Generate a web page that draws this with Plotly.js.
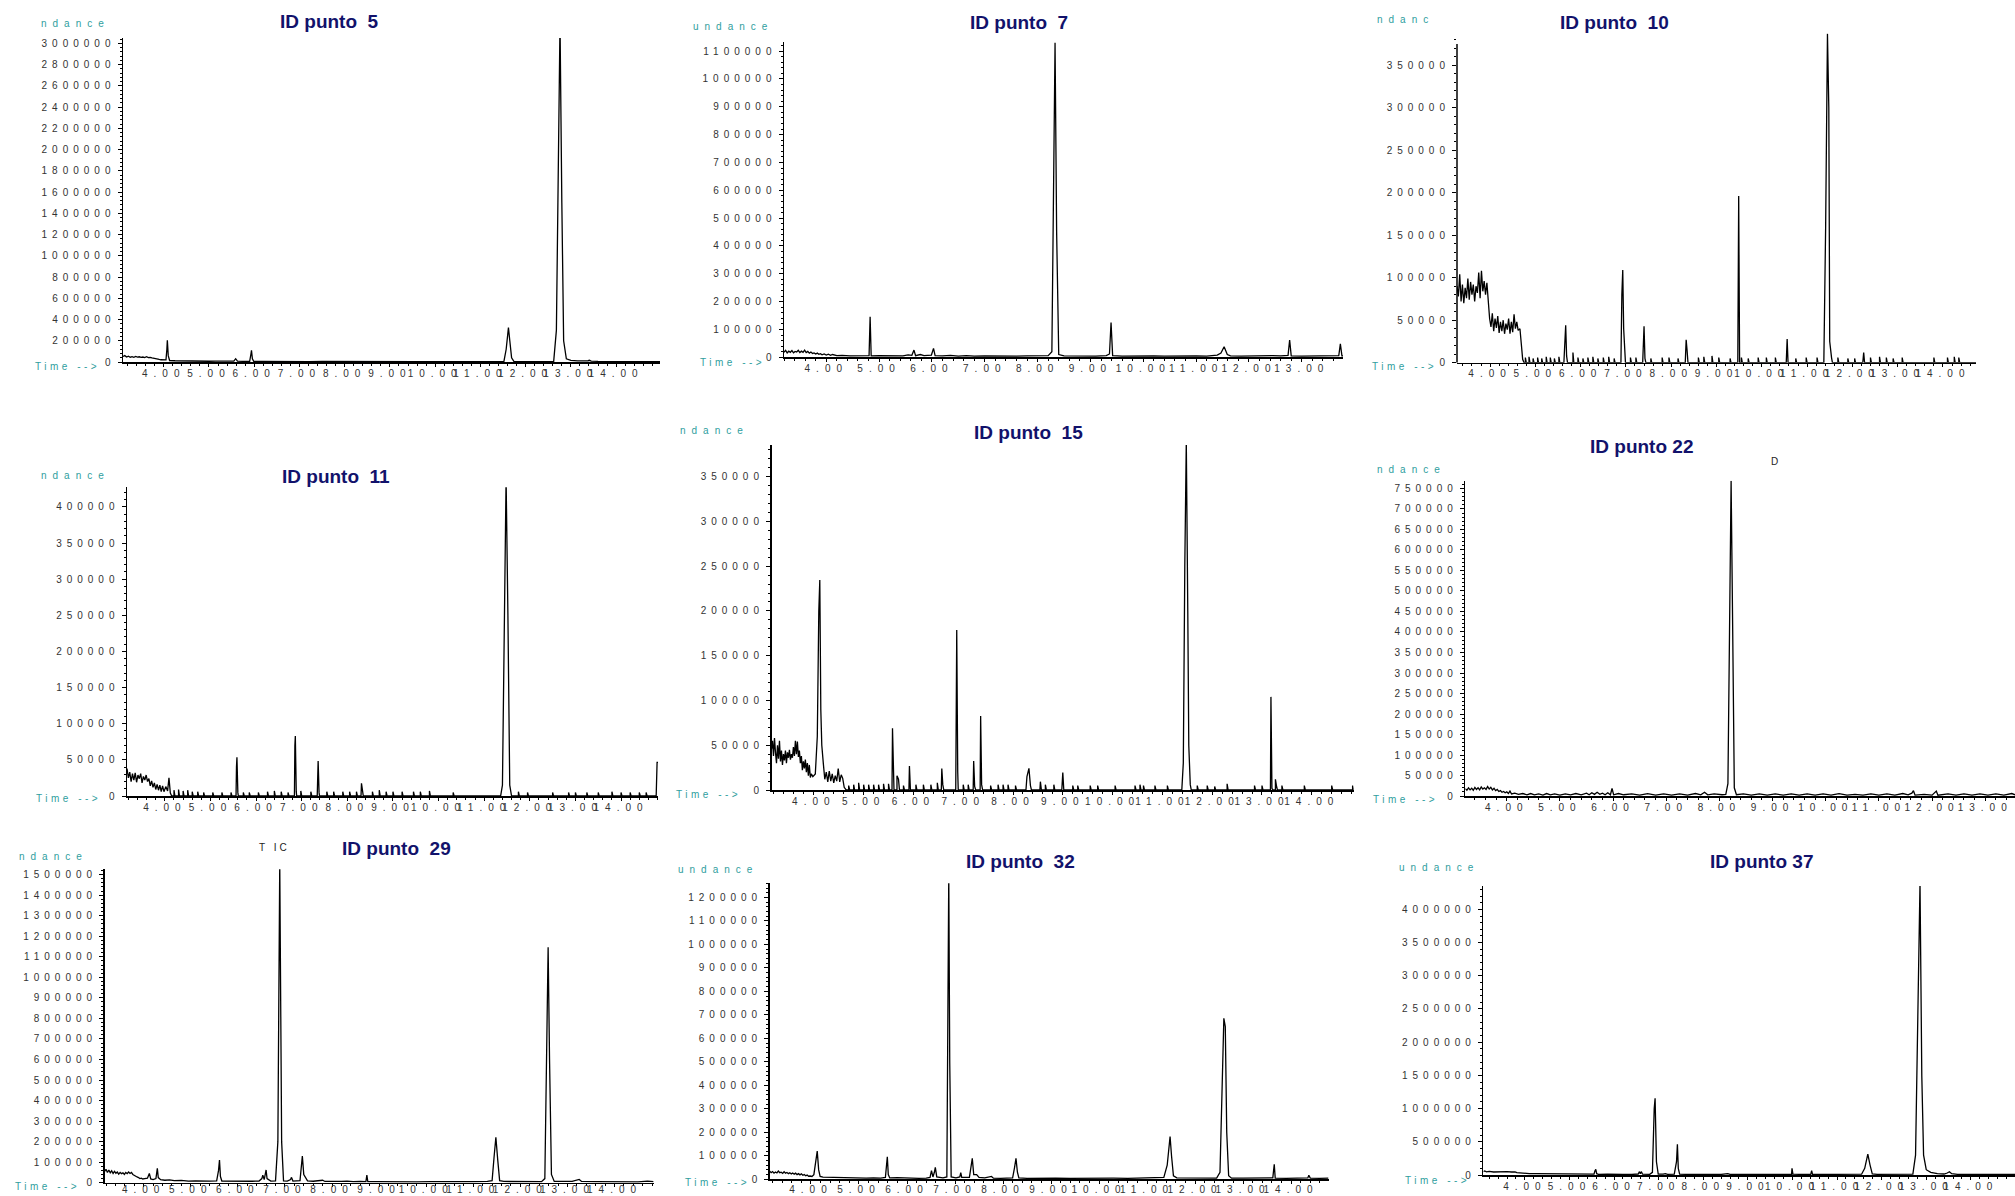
<!DOCTYPE html>
<html><head><meta charset="utf-8">
<script src="https://cdn.plot.ly/plotly-3.0.1.min.js"></script>
<style>
html,body{margin:0;padding:0;background:#fff;}
#chart{width:2015px;height:1196px;}
.yaxislayer-above text{letter-spacing:5px;}
.xaxislayer-above text{letter-spacing:6px;}
.annotation-text[data-unformatted*="nda"]{letter-spacing:6px;}
.annotation-text[data-unformatted^="Time"]{letter-spacing:3.5px;}
.annotation-text[data-unformatted^="T IC"]{letter-spacing:3px;}
</style></head><body><div id="chart"></div>
<script>
// ---------- DATA (time in min, abundance) ----------
const punto5 = [[3.10,52000],[3.14,60000],[3.18,47000],[3.22,54000],[3.26,45000],[3.30,50000],[3.34,44000],[3.38,52000],[3.42,46000],[3.46,49000],[3.50,43000],[3.54,47000],[3.58,42000],[3.62,50000],[3.66,41000],[3.70,44000],[3.74,38000],[3.78,33000],[3.82,30000],[3.86,26000],[3.90,24000],[3.94,21000],[3.98,19000],[4.02,17000],[4.05,20000],[4.07,120000],[4.08,205000],[4.10,60000],[4.13,14000],[4.25,12000],[4.40,10000],[4.55,11000],[4.70,8000],[4.85,9000],[5.00,7000],[5.15,8000],[5.30,6000],[5.45,7000],[5.55,9000],[5.59,31000],[5.63,8000],[5.75,6000],[5.90,7000],[5.93,80000],[5.94,110000],[5.96,30000],[5.99,6000],[6.2,5000],[6.4,6000],[6.6,4000],[6.9,5000],[7.2,4000],[7.5,4500],[7.8,3500],[8.1,4000],[8.4,3500],[8.7,4000],[9.0,3500],[9.3,4000],[9.6,3000],[9.9,3500],[10.2,3000],[10.5,3500],[10.8,3000],[11.1,4000],[11.4,3500],[11.52,6000],[11.57,120000],[11.60,290000],[11.62,323000],[11.65,200000],[11.69,40000],[11.74,6000],[11.9,4000],[12.2,3500],[12.5,4000],[12.62,6000],[12.68,300000],[12.72,1800000],[12.76,3200000],[12.80,1500000],[12.84,200000],[12.90,30000],[13.0,15000],[13.15,10000],[13.30,9000],[13.38,12000],[13.41,16000],[13.45,9000],[13.6,6000],[13.9,5000],[14.2,4000],[14.5,4500],[14.97,3500]];

const punto7 = [[3.20,18000],[3.23,25000],[3.26,16000],[3.29,22000],[3.32,18000],[3.35,24000],[3.38,16000],[3.41,21000],[3.44,19000],[3.47,25000],[3.50,17000],[3.53,22000],[3.56,18000],[3.59,26000],[3.62,17000],[3.65,21000],[3.68,15000],[3.71,19000],[3.74,14000],[3.77,16000],[3.80,12000],[3.83,15000],[3.86,11000],[3.89,13000],[3.92,9000],[3.96,12000],[4.00,8000],[4.04,11000],[4.08,7000],[4.12,10000],[4.20,6000],[4.30,7000],[4.45,5000],[4.60,6000],[4.75,5000],[4.81,6000],[4.83,146000],[4.85,5000],[5.00,6000],[5.15,5000],[5.30,6000],[5.45,5000],[5.55,9000],[5.62,7000],[5.66,26000],[5.69,6000],[5.78,10000],[5.85,6000],[5.99,8000],[6.03,32000],[6.06,6000],[6.20,5000],[6.35,7000],[6.50,4000],[6.65,6000],[6.80,4000],[7.00,5000],[7.20,4000],[7.40,5000],[7.60,4000],[7.80,5000],[8.00,6000],[8.10,8000],[8.20,6000],[8.27,20000],[8.30,500000],[8.33,1130000],[8.36,450000],[8.40,10000],[8.50,5000],[8.70,4000],[8.90,5000],[9.10,4000],[9.30,6000],[9.36,12000],[9.39,125000],[9.42,6000],[9.60,4000],[9.80,5000],[10.00,4000],[10.20,5000],[10.40,4000],[10.60,5000],[10.80,4000],[11.00,5000],[11.20,4000],[11.40,8000],[11.47,15000],[11.53,38000],[11.59,10000],[11.65,5000],[11.85,4000],[12.05,5000],[12.25,4000],[12.45,6000],[12.60,5000],[12.74,7000],[12.77,62000],[12.80,5000],[13.00,4000],[13.20,5000],[13.40,4000],[13.60,5000],[13.70,6000],[13.73,48000],[13.76,5000],[13.78,5000]];

const punto10 = [[3.27,90000],[3.30,78000],[3.33,104000],[3.36,72000],[3.39,92000],[3.42,70000],[3.45,88000],[3.48,76000],[3.51,99000],[3.54,74000],[3.57,95000],[3.60,80000],[3.63,92000],[3.66,72000],[3.69,90000],[3.72,82000],[3.75,106000],[3.78,76000],[3.81,108000],[3.84,84000],[3.87,96000],[3.90,80000],[3.93,94000],[3.96,66000],[3.99,52000],[4.02,42000],[4.05,58000],[4.08,37000],[4.11,52000],[4.14,41000],[4.17,55000],[4.20,35000],[4.23,48000],[4.26,37000],[4.29,50000],[4.32,34000],[4.35,46000],[4.38,39000],[4.41,52000],[4.44,34000],[4.47,48000],[4.50,36000],[4.53,57000],[4.56,40000],[4.59,48000],[4.62,38000],[4.66,40000],[4.69,22000],[4.72,4000],[4.75,0],
[4.78,0],[4.78,6000],[4.80,0],[4.86,0],[4.86,7000],[4.88,0],[4.95,0],[4.95,5000],[4.97,0],[5.05,0],[5.05,6000],[5.07,0],[5.14,0],[5.14,5000],[5.16,0],[5.24,0],[5.24,7000],[5.26,0],[5.33,0],[5.33,6000],[5.35,0],[5.42,0],[5.42,5000],[5.44,0],[5.52,0],[5.52,7000],[5.54,0],
[5.63,0],[5.65,30000],[5.67,44000],[5.69,8000],[5.71,0],[5.83,0],[5.83,12000],[5.85,0],[5.94,0],[5.94,6000],[5.96,0],[6.05,0],[6.05,5000],[6.07,0],[6.16,0],[6.16,6000],[6.18,0],[6.27,0],[6.27,7000],[6.29,0],[6.38,0],[6.38,5000],[6.40,0],[6.50,0],[6.50,6000],[6.52,0],[6.62,0],[6.62,7000],[6.64,0],[6.74,0],[6.74,5000],[6.76,0],
[6.89,0],[6.91,80000],[6.93,109000],[6.95,40000],[6.97,10000],[6.99,0],[7.10,0],[7.10,6000],[7.12,0],[7.22,0],[7.22,6000],[7.24,0],
[7.37,0],[7.38,30000],[7.40,43000],[7.42,5000],[7.44,0],[7.55,0],[7.55,5000],[7.57,0],[7.80,0],[7.80,6000],[7.82,0],[7.95,0],[7.95,6000],[7.97,0],[8.15,0],[8.15,5000],[8.17,0],
[8.31,0],[8.33,27000],[8.35,15000],[8.37,0],[8.60,0],[8.60,6000],[8.62,0],[8.72,0],[8.72,7000],[8.74,0],[8.90,0],[8.90,8000],[8.92,0],[9.05,0],[9.05,6000],[9.07,0],[9.30,0],[9.30,5000],[9.32,0],
[9.47,0],[9.49,196000],[9.51,0],[9.55,0],[9.55,6000],[9.57,0],[9.70,0],[9.70,5000],[9.72,0],[9.92,0],[9.92,6000],[9.94,0],[10.10,0],[10.10,6000],[10.12,0],[10.30,0],[10.30,6000],[10.32,0],
[10.54,0],[10.56,28000],[10.58,0],[10.75,0],[10.75,5000],[10.77,0],[10.98,0],[10.98,6000],[11.00,0],[11.22,0],[11.22,6000],[11.24,0],
[11.37,0],[11.41,160000],[11.45,387000],[11.48,300000],[11.50,25000],[11.54,6000],[11.56,0],[11.68,0],[11.68,6000],[11.70,0],[11.90,0],[11.90,5000],[11.92,0],[12.05,0],[12.05,5000],[12.07,0],
[12.23,0],[12.25,12000],[12.27,0],[12.40,0],[12.40,6000],[12.42,0],[12.60,0],[12.60,7000],[12.62,0],[12.75,0],[12.75,6000],[12.77,0],[12.90,0],[12.90,5000],[12.92,0],[13.10,0],[13.10,6000],[13.12,0],[13.80,0],[13.80,6000],[13.82,0],[14.10,0],[14.10,6000],[14.12,0],[14.25,0],[14.25,7000],[14.27,0],[14.35,0],[14.35,6000],[14.37,0],[14.73,0]];

const punto11 = [[3.17,38000],[3.20,25000],[3.23,33000],[3.26,20000],[3.29,31000],[3.32,22000],[3.35,32000],[3.38,19000],[3.41,29000],[3.44,24000],[3.47,31000],[3.50,18000],[3.53,27000],[3.56,22000],[3.59,29000],[3.62,20000],[3.65,24000],[3.68,14000],[3.71,21000],[3.74,12000],[3.77,18000],[3.80,9000],[3.83,16000],[3.86,8000],[3.89,15000],[3.92,6000],[3.95,14000],[3.98,6000],[4.02,13000],[4.06,7000],[4.09,25000],[4.12,4000],[4.15,0],
[4.20,0],[4.20,8000],[4.22,0],[4.30,0],[4.30,9000],[4.32,0],[4.40,0],[4.40,7000],[4.42,0],[4.50,0],[4.50,8000],[4.52,0],[4.60,0],[4.60,6000],[4.62,0],[4.72,0],[4.72,6000],[4.74,0],[4.85,0],[4.85,5000],[4.87,0],[5.05,0],[5.05,5000],[5.07,0],[5.25,0],[5.25,5000],[5.27,0],[5.45,0],[5.45,5000],[5.47,0],
[5.56,0],[5.57,40000],[5.58,53500],[5.60,5000],[5.61,0],[5.72,0],[5.72,5000],[5.74,0],[5.85,0],[5.85,5000],[5.87,0],[6.05,0],[6.05,5000],[6.07,0],[6.25,0],[6.25,6000],[6.27,0],[6.40,0],[6.40,7000],[6.42,0],[6.55,0],[6.55,6000],[6.57,0],[6.70,0],[6.70,5000],[6.72,0],
[6.84,0],[6.85,70000],[6.86,83000],[6.88,6000],[6.89,0],[6.98,0],[6.98,7000],[7.00,0],[7.20,0],[7.20,6000],[7.22,0],
[7.34,0],[7.35,40000],[7.36,48400],[7.38,5000],[7.39,0],[7.55,0],[7.55,6000],[7.57,0],[7.70,0],[7.70,6000],[7.72,0],[7.90,0],[7.90,6000],[7.92,0],[8.05,0],[8.05,6000],[8.07,0],[8.20,0],[8.20,6000],[8.22,0],
[8.30,0],[8.31,17500],[8.33,6000],[8.35,0],[8.55,0],[8.55,6000],[8.57,0],[8.70,0],[8.70,8000],[8.72,0],[8.85,0],[8.85,6000],[8.87,0],[9.00,0],[9.00,6000],[9.02,0],[9.20,0],[9.20,6000],[9.22,0],[9.45,0],[9.45,6000],[9.47,0],[9.60,0],[9.60,6000],[9.62,0],[9.80,0],[9.80,7000],[9.82,0],[10.32,0],[10.32,5000],[10.34,0],
[11.36,0],[11.40,15000],[11.44,250000],[11.48,440000],[11.52,250000],[11.56,15000],[11.60,0],[11.75,0],[11.75,6000],[11.77,0],[11.95,0],[11.95,5000],[11.97,0],[12.50,0],[12.50,5000],[12.52,0],[12.85,0],[12.85,5000],[12.87,0],[13.00,0],[13.00,5000],[13.02,0],[13.25,0],[13.25,5000],[13.27,0],[13.50,0],[13.50,5000],[13.52,0],[13.80,0],[13.80,6000],[13.82,0],[14.00,0],[14.00,5000],[14.02,0],[14.20,0],[14.20,5000],[14.22,0],[14.40,0],[14.40,5000],[14.42,0],[14.55,0],[14.55,5000],[14.57,0],[14.77,0],[14.79,46600],[14.81,46600]];

const punto15 = [[3.15,46000],[3.17,55000],[3.19,38000],[3.21,58000],[3.23,42000],[3.25,30000],[3.27,50000],[3.29,35000],[3.31,55000],[3.33,32000],[3.35,44000],[3.37,28000],[3.39,40000],[3.41,33000],[3.43,44000],[3.45,30000],[3.47,42000],[3.49,36000],[3.51,45000],[3.53,34000],[3.55,40000],[3.57,36000],[3.59,48000],[3.61,38000],[3.63,55000],[3.65,40000],[3.67,54000],[3.69,37000],[3.71,44000],[3.73,30000],[3.75,38000],[3.77,22000],[3.79,32000],[3.81,24000],[3.83,34000],[3.85,20000],[3.87,30000],[3.89,16000],[3.91,28000],[3.93,14000],[3.95,18000],[3.98,15000],[4.03,18000],[4.07,60000],[4.10,200000],[4.12,234500],[4.14,90000],[4.16,50000],[4.19,30000],[4.22,12000],[4.25,20000],[4.28,9000],[4.31,21000],[4.34,10000],[4.37,18000],[4.40,8000],[4.43,16000],[4.46,10000],[4.49,24000],[4.52,9000],[4.55,17000],[4.58,13000],[4.61,3000],[4.65,0],
[4.70,0],[4.70,5000],[4.72,0],[4.80,0],[4.80,6000],[4.82,0],[4.90,0],[4.90,8000],[4.92,0],[5.00,0],[5.00,6000],[5.02,0],[5.10,0],[5.10,6000],[5.12,0],[5.20,0],[5.20,6000],[5.22,0],[5.30,0],[5.30,6000],[5.32,0],[5.40,0],[5.40,7000],[5.42,0],[5.50,0],[5.50,7000],[5.52,0],
[5.57,0],[5.58,69000],[5.60,5000],[5.61,0],[5.67,0],[5.67,16000],[5.70,12000],[5.72,0],[5.80,0],[5.80,5000],[5.82,0],[5.91,0],[5.92,26800],[5.94,0],[6.05,0],[6.05,6000],[6.07,0],[6.20,0],[6.20,6000],[6.22,0],[6.35,0],[6.35,6000],[6.37,0],[6.48,0],[6.48,8000],[6.50,0],
[6.56,0],[6.57,24000],[6.59,6000],[6.61,0],[6.85,0],[6.86,150000],[6.87,178700],[6.89,20000],[6.90,0],[7.00,0],[7.00,6000],[7.02,0],[7.10,0],[7.10,6000],[7.12,0],
[7.20,0],[7.21,32400],[7.23,4000],[7.25,0],[7.34,0],[7.35,82600],[7.37,6000],[7.39,0],[7.55,0],[7.55,5000],[7.57,0],[7.70,0],[7.70,6000],[7.72,0],[7.80,0],[7.80,6000],[7.82,0],[7.90,0],[7.90,6000],[7.92,0],[8.05,0],[8.05,5000],[8.07,0],
[8.26,0],[8.28,15000],[8.32,24200],[8.35,5000],[8.37,0],[8.54,0],[8.55,9300],[8.57,0],[8.65,0],[8.65,6000],[8.67,0],[8.82,0],[8.82,6000],[8.84,0],[8.98,0],[9.00,19400],[9.02,0],
[9.20,0],[9.20,5000],[9.22,0],[9.30,0],[9.30,5000],[9.32,0],[9.55,0],[9.55,5000],[9.57,0],[9.70,0],[9.70,5000],[9.72,0],[10.05,0],[10.05,5000],[10.07,0],[10.45,0],[10.45,5000],[10.47,0],[10.55,0],[10.55,6000],[10.57,0],[10.62,0],[10.62,5000],[10.64,0],[10.85,0],[10.85,5000],[10.87,0],[11.10,0],[11.10,5000],[11.12,0],
[11.39,0],[11.42,30000],[11.45,250000],[11.48,390000],[11.51,200000],[11.53,50000],[11.56,6000],[11.58,0],[11.70,0],[11.70,5000],[11.72,0],[11.90,0],[11.90,5000],[11.92,0],[12.05,0],[12.05,4000],[12.07,0],[12.30,0],[12.30,7000],[12.32,0],[12.85,0],[12.85,5000],[12.87,0],[13.00,0],[13.00,5000],[13.02,0],
[13.17,0],[13.18,104000],[13.20,2000],[13.22,0],[13.27,0],[13.27,12000],[13.29,5000],[13.31,0],[13.40,0],[13.40,5000],[13.42,0],[13.85,0],[13.85,5000],[13.87,0],[14.40,0],[14.40,5000],[14.42,0],[14.82,0],[14.82,5000],[14.84,0]];

const punto22 = [[3.22,18000],[3.25,14000],[3.28,20000],[3.31,15000],[3.34,19000],[3.37,14000],[3.40,21000],[3.43,16000],[3.46,20000],[3.49,15000],[3.52,22000],[3.55,17000],[3.58,20000],[3.61,16000],[3.64,23000],[3.67,17000],[3.70,21000],[3.73,15000],[3.76,19000],[3.79,13000],[3.82,16000],[3.85,11000],[3.88,13000],[3.91,9000],[3.94,11000],[3.97,8000],[4.00,10000],[4.03,6000],[4.06,12000],[4.09,5000],[4.15,7000],[4.22,4000],[4.30,6000],[4.38,3000],[4.45,6000],[4.52,3000],[4.60,5000],[4.68,2000],[4.75,6000],[4.82,3000],[4.90,5000],[5.00,2000],[5.10,5000],[5.20,3000],[5.30,6000],[5.40,3000],[5.50,7000],[5.55,3000],[5.60,8000],[5.65,4000],[5.70,9000],[5.75,4000],[5.80,7000],[5.85,3000],[5.90,8000],[5.95,3000],[5.98,18700],[6.01,3000],[6.10,6000],[6.20,3000],[6.35,5000],[6.50,2000],[6.65,6000],[6.80,2000],[6.95,5000],[7.10,2000],[7.25,5000],[7.40,2000],[7.55,6000],[7.65,3000],[7.72,9000],[7.78,3000],[7.90,5000],[8.05,3000],[8.12,4000],[8.16,30000],[8.19,400000],[8.22,769000],[8.25,400000],[8.28,20000],[8.32,3000],[8.45,5000],[8.60,2000],[8.75,5000],[8.90,2000],[9.05,5000],[9.20,2000],[9.35,5000],[9.50,2000],[9.65,5000],[9.80,2000],[9.95,5000],[10.10,2000],[10.25,6000],[10.40,2000],[10.55,4000],[10.70,2000],[10.85,5000],[11.00,2000],[11.15,5000],[11.30,2000],[11.45,6000],[11.55,3000],[11.62,7000],[11.65,13000],[11.68,2000],[11.85,4000],[12.00,2000],[12.08,12000],[12.11,2000],[12.30,5000],[12.45,2000],[12.60,5000],[12.75,2000],[12.90,5000],[13.05,2000],[13.20,5000],[13.35,2000],[13.50,6000],[13.56,3000]];

const punto29 = [[3.17,55000],[3.20,65000],[3.23,50000],[3.26,62000],[3.29,48000],[3.32,58000],[3.35,45000],[3.38,55000],[3.41,46000],[3.44,52000],[3.47,42000],[3.50,50000],[3.53,44000],[3.56,48000],[3.59,40000],[3.62,50000],[3.65,44000],[3.68,52000],[3.71,45000],[3.74,50000],[3.77,40000],[3.80,35000],[3.83,30000],[3.86,28000],[3.89,25000],[3.92,20000],[3.95,22000],[3.98,18000],[4.02,20000],[4.08,22000],[4.12,45000],[4.15,18000],[4.20,15000],[4.26,20000],[4.29,70000],[4.31,25000],[4.36,15000],[4.45,12000],[4.55,14000],[4.65,10000],[4.80,11000],[4.95,8000],[5.10,9000],[5.25,7000],[5.40,8000],[5.55,9000],[5.59,60000],[5.61,110000],[5.63,30000],[5.66,8000],[5.80,7000],[5.95,9000],[6.10,6000],[6.30,7000],[6.45,8000],[6.51,20000],[6.53,37000],[6.56,15000],[6.60,62000],[6.62,20000],[6.70,8000],[6.80,9000],[6.85,200000],[6.89,1560000],[6.93,200000],[6.97,9000],[7.05,8000],[7.12,15000],[7.14,26000],[7.17,8000],[7.32,10000],[7.35,80000],[7.37,130000],[7.40,40000],[7.44,25000],[7.48,9000],[7.60,7000],[7.80,12000],[7.85,6000],[8.00,5000],[8.20,6000],[8.32,8000],[8.45,5000],[8.60,6000],[8.72,5000],[8.74,37000],[8.76,5000],[8.95,5000],[9.20,4000],[9.50,5000],[9.80,4000],[10.10,5000],[10.40,4000],[10.70,5000],[11.00,5000],[11.30,6000],[11.40,10000],[11.44,120000],[11.48,221000],[11.52,110000],[11.56,10000],[11.65,6000],[11.90,5000],[12.20,4000],[12.45,5000],[12.52,20000],[12.55,600000],[12.58,1020000],[12.59,1146000],[12.62,600000],[12.66,40000],[12.72,6000],[12.90,5000],[13.10,6000],[13.25,16000],[13.30,6000],[13.60,5000],[13.90,4000],[14.20,5000],[14.50,4000],[14.70,8000],[14.83,5000]];

const punto32 = [[3.14,35000],[3.17,28000],[3.20,33000],[3.23,26000],[3.26,31000],[3.29,27000],[3.32,35000],[3.35,28000],[3.38,30000],[3.41,25000],[3.44,32000],[3.47,26000],[3.50,29000],[3.53,24000],[3.56,28000],[3.59,23000],[3.62,27000],[3.65,22000],[3.68,26000],[3.71,20000],[3.74,24000],[3.77,19000],[3.80,23000],[3.83,17000],[3.86,20000],[3.89,15000],[3.92,18000],[3.95,13000],[3.98,14000],[4.02,12000],[4.06,20000],[4.10,90000],[4.13,120000],[4.16,40000],[4.19,12000],[4.25,9000],[4.40,8000],[4.55,7000],[4.70,8000],[4.85,6000],[5.00,7000],[5.15,5000],[5.30,6000],[5.45,5000],[5.55,8000],[5.58,70000],[5.59,96000],[5.61,20000],[5.64,6000],[5.80,7000],[5.95,5000],[6.10,6000],[6.25,4000],[6.40,5000],[6.48,8000],[6.51,37000],[6.54,10000],[6.57,30000],[6.59,51000],[6.62,10000],[6.75,6000],[6.83,10000],[6.85,600000],[6.87,1300000],[6.89,500000],[6.92,10000],[7.02,6000],[7.10,10000],[7.12,28000],[7.14,8000],[7.30,8000],[7.34,60000],[7.36,89000],[7.39,20000],[7.45,20000],[7.50,8000],[7.62,6000],[7.76,12000],[7.80,5000],[7.95,4000],[8.10,5000],[8.20,6000],[8.24,50000],[8.27,89000],[8.30,30000],[8.33,6000],[8.50,4000],[8.70,5000],[8.90,4000],[9.10,5000],[9.40,4000],[9.70,5000],[10.00,4000],[10.30,5000],[10.60,4000],[10.90,6000],[11.20,5000],[11.35,8000],[11.42,60000],[11.46,160000],[11.48,182000],[11.51,100000],[11.55,15000],[11.62,6000],[11.90,5000],[12.20,4000],[12.45,5000],[12.52,30000],[12.56,400000],[12.60,685000],[12.63,650000],[12.66,200000],[12.70,15000],[12.76,5000],[13.00,5000],[13.30,4000],[13.55,5000],[13.62,6000],[13.65,64000],[13.67,5000],[13.90,4000],[14.20,5000],[14.35,6000],[14.37,17000],[14.40,5000],[14.60,4000],[14.78,5000]];

const punto37 = [[3.07,50000],[3.10,60000],[3.14,48000],[3.20,55000],[3.30,45000],[3.40,50000],[3.50,46000],[3.60,50000],[3.70,45000],[3.78,48000],[3.82,35000],[3.90,30000],[4.00,25000],[4.10,22000],[4.25,20000],[4.40,18000],[4.60,15000],[4.80,14000],[5.00,12000],[5.20,12000],[5.40,10000],[5.55,12000],[5.57,60000],[5.59,85000],[5.61,20000],[5.65,10000],[5.85,12000],[5.95,9000],[6.20,10000],[6.40,9000],[6.54,15000],[6.57,50000],[6.59,20000],[6.61,50000],[6.64,12000],[6.80,10000],[6.86,40000],[6.90,1000000],[6.92,1155000],[6.95,200000],[6.99,15000],[7.10,12000],[7.15,20000],[7.20,10000],[7.35,12000],[7.40,200000],[7.42,462000],[7.44,100000],[7.47,12000],[7.60,10000],[7.90,9000],[8.20,10000],[8.40,9000],[8.55,20000],[8.60,10000],[8.90,9000],[9.20,10000],[9.50,9000],[9.70,12000],[9.98,10000],[9.99,100000],[10.01,12000],[10.20,9000],[10.41,10000],[10.43,65000],[10.45,10000],[10.80,9000],[11.10,10000],[11.17,20000],[11.22,10000],[11.55,12000],[11.62,100000],[11.69,316000],[11.74,150000],[11.79,15000],[11.90,10000],[12.20,9000],[12.50,10000],[12.70,12000],[12.76,300000],[12.81,2500000],[12.86,4400000],[12.90,1500000],[12.94,300000],[13.00,80000],[13.10,40000],[13.25,20000],[13.40,15000],[13.47,30000],[13.52,50000],[13.57,20000],[13.70,10000],[14.00,9000],[14.30,10000],[14.60,9000],[14.99,10000]];

const panelTitles = ['ID punto\u00a0 5','ID punto\u00a0 7','ID punto\u00a0 10','ID punto\u00a0 11','ID punto\u00a0 15','ID punto 22','ID punto\u00a0 29','ID punto\u00a0 32','ID punto 37'];
const abundanceLabels = ['ndance','undance','ndanc','ndance','ndance','ndance','ndance','undance','undance'];
const timeTicks14 = [4,5,6,7,8,9,10,11,12,13,14];
const timeTicks13 = [4,5,6,7,8,9,10,11,12,13];
const yTickStep = [200000,100000,50000,50000,50000,50000,100000,100000,500000];
const abundanceTop = [3050000,1134000,387500,427100,385300,769000,1526000,1260000,4352000];
const timeRange = [[3.10,14.97],[3.20,13.78],[3.27,14.73],[3.17,14.81],[3.15,14.84],[3.22,13.56],[3.17,14.83],[3.14,14.78],[3.07,14.99]];

// ---------- LAYOUT GEOMETRY (pixels) ----------
const W = 2015, H = 1196;
const plotBox = [ // left, right, top, bottom
  [123,660,38,362],[784,1343,41.7,357.3],[1457,1976,33.3,362.7],
  [127,658,487.3,796],[771.5,1353.6,445,790],[1465.3,2015,480.7,796],
  [104.6,653.6,869.3,1182.7],[769.7,1328.5,883.3,1179.3],[1483.4,2015,886,1175]
];
const xLabelStandoff = [-2,-2,-2,-2,-2,-2,-6,-3,-2];
const titlePos = [[329,22],[1019,22.7],[1614,22.7],[336,476.7],[1028,432.7],[1641,446.7],[396.5,848.3],[1020.5,861.7],[1761.3,861.7]];
const abLabelPos = [[38.6,24],[690.5,26.7],[1375.2,20],[38.6,475],[678.2,430.7],[1375.2,469],[17.1,856.7],[676,869.3],[1397,867.7]];
const timeLabelPos = [[33,366.7],[698,362.7],[1370,366.7],[34,798],[674,794.3],[1371,799.3],[13,1186.7],[682.6,1182.7],[1403,1180]];
const xTickSets = [timeTicks14,timeTicks13,timeTicks14,timeTicks14,timeTicks14,timeTicks13,timeTicks14,timeTicks14,timeTicks14];
const series = [punto5,punto7,punto10,punto11,punto15,punto22,punto29,punto32,punto37];

const teal = '#2f9e9e';
const tickFont = {family:'Liberation Sans, Arial, sans-serif', size:10, color:'#333'};
const data = [];
const layout = {
  width:W, height:H, margin:{l:0,r:0,t:0,b:0},
  paper_bgcolor:'#fff', plot_bgcolor:'#fff', showlegend:false,
  font:{family:'Liberation Sans, Arial, sans-serif'},
  annotations:[], shapes:[]
};

for (let i = 0; i < 9; i++) {
  const s = i === 0 ? '' : String(i + 1);
  const xa = 'x' + s, ya = 'y' + s;
  const [L, R, T, B] = plotBox[i];
  data.push({
    type:'scatter', mode:'lines',
    x: series[i].map(p => p[0]), y: series[i].map(p => p[1]),
    xaxis: xa, yaxis: ya,
    line:{color:'#000', width:1.3}, hoverinfo:'skip'
  });
  layout['xaxis' + s] = {
    domain:[L / W, R / W], anchor: ya, range: timeRange[i],
    showline:true, linecolor:'#000', linewidth:1.5,
    ticks:'outside', ticklen:3, tickwidth:1, tickcolor:'#000',
    tickmode:'array', tickvals: xTickSets[i], tickformat:'.2f', tickangle:0,
    ticklabelstandoff: xLabelStandoff[i],
    tickfont: tickFont,
    minor:{tickmode:'linear', tick0:0, dtick:0.2, ticks:'outside', ticklen:2, tickwidth:1, tickcolor:'#000', showgrid:false},
    showgrid:false, zeroline:false, fixedrange:true
  };
  layout['yaxis' + s] = {
    domain:[1 - B / H, 1 - T / H], anchor: xa, range:[0, abundanceTop[i]],
    showline: i !== 2, linecolor:'#000', linewidth:1.5,
    ticks:'outside', ticklen:4, tickwidth:1, tickcolor:'#000',
    tickmode:'linear', tick0:0, dtick: yTickStep[i], tickformat:'d',
    tickfont: tickFont,
    minor:{tickmode:'linear', tick0:0, dtick: yTickStep[i] / 5, ticks:'outside', ticklen:2, tickwidth:1, tickcolor:'#000', showgrid:false},
    showgrid:false, zeroline:false, fixedrange:true
  };
  layout.annotations.push({
    xref:'paper', yref:'paper', x: titlePos[i][0] / W, y: 1 - titlePos[i][1] / H,
    xanchor:'center', yanchor:'middle', showarrow:false,
    text: panelTitles[i],
    font:{family:'Liberation Sans, Arial, sans-serif', size:19, color:'#12126b', weight:700}
  });
  layout.annotations.push({
    xref:'paper', yref:'paper', x: abLabelPos[i][0] / W, y: 1 - abLabelPos[i][1] / H,
    xanchor:'left', yanchor:'middle', showarrow:false,
    text: abundanceLabels[i],
    font:{family:'Liberation Sans, Arial, sans-serif', size:10, color:teal}
  });
  layout.annotations.push({
    xref:'paper', yref:'paper', x: timeLabelPos[i][0] / W, y: 1 - timeLabelPos[i][1] / H,
    xanchor:'left', yanchor:'middle', showarrow:false,
    text: 'Time --&gt;',
    font:{family:'Liberation Sans, Arial, sans-serif', size:10, color:teal}
  });
}
// y axis line of panel 10 stops below the peak that overshoots it
layout.shapes.push({type:'line', xref:'x3 domain', yref:'y3', x0:0, x1:0, y0:0, y1:375000, line:{color:'#000', width:1.5}});
// stray header fragments
layout.annotations.push({xref:'paper', yref:'paper', x:257/W, y:1-847/H, xanchor:'left', yanchor:'middle', showarrow:false, text:'T IC', font:{size:10, color:'#222'}});
layout.annotations.push({xref:'paper', yref:'paper', x:1769/W, y:1-461/H, xanchor:'left', yanchor:'middle', showarrow:false, text:'D', font:{size:10, color:'#222'}});

Plotly.newPlot('chart', data, layout, {staticPlot:true, displayModeBar:false});
</script></body></html>
